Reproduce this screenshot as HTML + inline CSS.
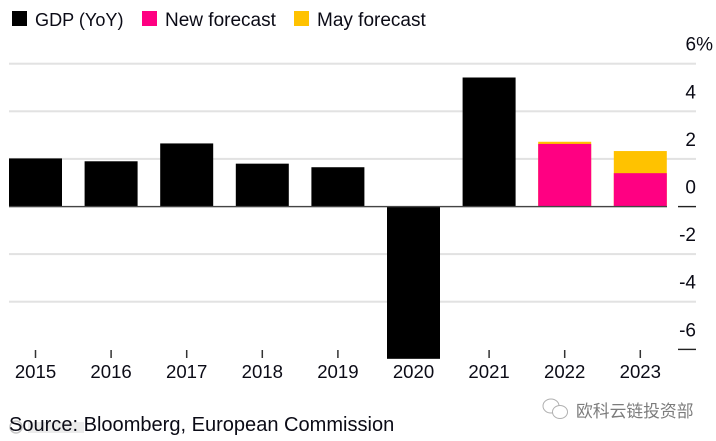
<!DOCTYPE html>
<html>
<head>
<meta charset="utf-8">
<style>
html,body{margin:0;padding:0;background:#fff;width:716px;height:441px;overflow:hidden}
svg{display:block}
text{font-family:"Liberation Sans","Noto Sans CJK SC",sans-serif;fill:#0b0b16}
</style>
</head>
<body>
<svg id="chart" xmlns="http://www.w3.org/2000/svg" width="716" height="441" viewBox="0 0 716 441">
  <g id="grid"></g>
  <g id="bars"></g>
  <g id="axes"></g>
  <g>
    <g>
      <rect x="12" y="11" width="15" height="15" fill="#000"/>
      <text x="35" y="26" font-size="18.1">GDP (YoY)</text>
    </g>
    <g>
      <rect x="142" y="11" width="15" height="15" fill="#ff0082"/>
      <text x="165" y="26" font-size="19">New forecast</text>
    </g>
    <g>
      <rect x="294" y="11" width="15" height="15" fill="#ffc200"/>
      <text x="317" y="26" font-size="19">May forecast</text>
    </g>
  </g>
  <g opacity="0.55">
    <circle cx="16" cy="427" r="6" fill="none" stroke="#999" stroke-width="1.5"/>
    <rect x="28" y="422" width="56" height="11" fill="#ddd"/>
  </g>
  <text x="9" y="431" font-size="20.05">Source: Bloomberg, European Commission</text>
  <g>
    <g fill="none" stroke="#b0b0b0" stroke-width="1">
      <ellipse cx="551" cy="406" rx="8" ry="7"/>
      <ellipse cx="560" cy="412" rx="7.5" ry="6.5" fill="#fff"/>
    </g>
    <text x="576" y="417" font-size="16.8" style="fill:#7c7c7c">欧科云链投资部</text>
  </g>
</svg>
<script>
var categories = ["2015","2016","2017","2018","2019","2020","2021","2022","2023"];
var gdpValues = [2.02,1.9,2.65,1.8,1.65,-6.4,5.42,null,null];
var newForecastValues = [null,null,null,null,null,null,null,2.63,1.4];
var mayForecastValues = [null,null,null,null,null,null,null,2.72,2.33];
var yTicks = [6,4,2,0,-2,-4,-6];
var yTickLabels = ["6%","4","2","0","-2","-4","-6"];

var NS = "http://www.w3.org/2000/svg";
function y(v){ return 206.5 - v * 23.8; }
function xCenter(i){ return 35.5 + i * 75.6; }
var barWidth = 53;
function mk(parent, tag, attrs, txt){
  var el = document.createElementNS(NS, tag);
  for (var k in attrs) el.setAttribute(k, attrs[k]);
  if (txt !== undefined) el.textContent = txt;
  parent.appendChild(el);
  return el;
}
var grid = document.getElementById("grid");
var bars = document.getElementById("bars");
var axes = document.getElementById("axes");

yTicks.forEach(function(t, i){
  if (t !== 0 && t !== -6) {
    var g = mk(grid, "rect", {x:9, y:y(t)-1, width:687, height:2, fill:"#e2e2e2"});
    
    
  }
  var lab = mk(axes, "text", {x:696, y:y(t)-13, "font-size":19, "text-anchor":"end"}, yTickLabels[i]);
  if (t === 6) lab.setAttribute("x", 713);
  
  
});
var minusSix = mk(axes, "rect", {x:678, y:y(-6)-0.6, width:18, height:1.4, fill:"#222"});



function drawBar(i, v, color, name){
  if (v === null) return;
  var top = Math.min(y(v), y(0));
  var h = Math.abs(y(v) - y(0));
  var r = mk(bars, "rect", {x:xCenter(i)-barWidth/2, y:top, width:barWidth, height:h, fill:color});
  
  
}
categories.forEach(function(c, i){
  drawBar(i, mayForecastValues[i], "#ffc200", "bar-may-forecast-" + c);
  drawBar(i, newForecastValues[i], "#ff0082", "bar-new-forecast-" + c);
  drawBar(i, gdpValues[i], "#000", "bar-gdp-" + c);
  if (c !== "2020") {
    var tick = mk(axes, "rect", {x:xCenter(i)-0.75, y:350, width:1.5, height:8, fill:"#333"});
    
    
  }
  var xl = mk(axes, "text", {x:xCenter(i), y:378, "font-size":18.6, "text-anchor":"middle"}, c);
  
  
});
var base = mk(axes, "rect", {x:9, y:y(0)-0.6, width:658, height:1.4, fill:"#444"});


var base2 = mk(axes, "rect", {x:678, y:y(0)-0.6, width:18, height:1.4, fill:"#222"});


</script>
</body>
</html>
